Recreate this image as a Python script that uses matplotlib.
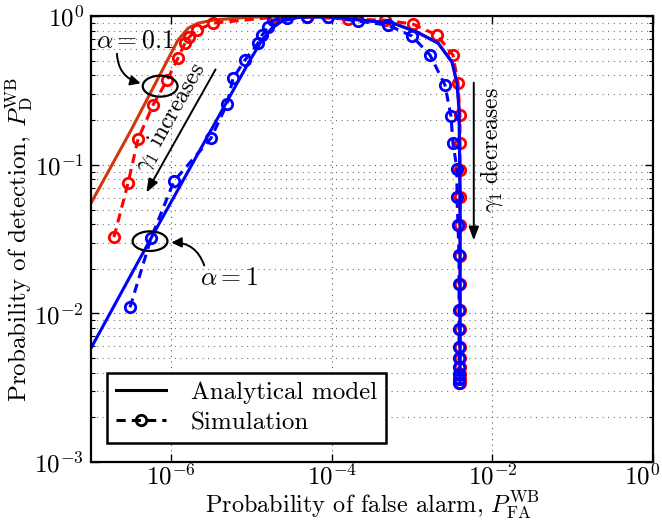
import numpy as np
import matplotlib
matplotlib.use('Agg')
import matplotlib.pyplot as plt
from matplotlib.lines import Line2D
from matplotlib.patches import Ellipse, FancyArrowPatch
from matplotlib.ticker import LogLocator, NullLocator
from matplotlib.transforms import ScaledTranslation

# --- data (P_FA, P_D) ---
# alpha = 0.1, analytical model
pfa_an_01 = [1.0e-7, 3.15e-7, 1.21e-6, 1.62e-6, 2.15e-6, 3.3e-6, 9.5e-6, 4.0e-5, 1.0e-4,
             2.3e-4, 5.9e-4, 1.17e-3, 2.12e-3, 3.16e-3, 3.64e-3, 3.86e-3, 3.96e-3, 3.96e-3]
pd_an_01 = [0.0553, 0.171, 0.690, 0.830, 0.897, 0.940, 0.985, 0.999, 0.999,
            0.940, 0.897, 0.780, 0.658, 0.490, 0.354, 0.233, 0.0579, 0.0034]

# alpha = 1, analytical model
pfa_an_1 = [1.0e-7, 5.59e-7, 3.12e-6, 9.55e-6, 1.35e-5, 1.79e-5, 2.39e-5, 4.0e-5, 9.5e-5,
            2.24e-4, 5.77e-4, 1.148e-3, 2.10e-3, 3.13e-3, 3.61e-3, 3.83e-3, 3.94e-3, 3.94e-3]
pd_an_1 = [0.00585, 0.0321, 0.171, 0.506, 0.690, 0.830, 0.926, 0.985, 0.999,
           0.940, 0.897, 0.780, 0.658, 0.490, 0.354, 0.233, 0.0579, 0.0034]

# alpha = 0.1, simulation
pfa_sim_01 = [1.93e-7, 2.89e-7, 3.85e-7, 5.91e-7, 8.84e-7, 1.21e-6, 1.48e-6, 1.66e-6, 2.09e-6,
              3.3e-6, 1.95e-5, 4.9e-5, 1.585e-4, 4.58e-4, 1.023e-3, 2.04e-3, 3.22e-3, 3.72e-3,
              3.94e-3, 3.94e-3, 3.94e-3, 3.94e-3, 3.94e-3, 3.94e-3, 3.94e-3, 3.94e-3, 3.94e-3,
              3.94e-3, 3.94e-3, 3.94e-3, 3.94e-3, 3.94e-3, 3.94e-3]
pd_sim_01 = [0.0326, 0.0753, 0.149, 0.252, 0.371, 0.522, 0.658, 0.722, 0.805,
             0.897, 0.985, 0.985, 0.955, 0.940, 0.884, 0.745, 0.547, 0.354,
             0.216, 0.140, 0.092, 0.0607, 0.0393, 0.0243, 0.0158, 0.0105, 0.00785,
             0.00594, 0.00501, 0.00436, 0.00394, 0.00363, 0.0034]

# alpha = 1, simulation
pfa_sim_1 = [3.06e-7, 5.59e-7, 1.08e-6, 3.12e-6, 4.94e-6, 5.87e-6, 8.27e-6, 1.2e-5, 1.35e-5,
             1.6e-5, 1.85e-5, 2.76e-5, 4.9e-5, 8.93e-5, 2.11e-4, 5.0e-4, 9.95e-4, 1.67e-3,
             2.56e-3, 3.04e-3, 3.22e-3, 3.61e-3, 3.61e-3, 3.72e-3, 3.83e-3, 3.83e-3, 3.83e-3,
             3.83e-3, 3.83e-3, 3.83e-3, 3.83e-3, 3.83e-3, 3.83e-3, 3.83e-3]
pd_sim_1 = [0.0110, 0.0321, 0.0777, 0.151, 0.256, 0.383, 0.506, 0.658, 0.745,
            0.843, 0.940, 0.970, 0.985, 0.985, 0.926, 0.870, 0.734, 0.547,
            0.344, 0.2126, 0.140, 0.0936, 0.0607, 0.0393, 0.0247, 0.0158, 0.0105,
            0.00785, 0.00594, 0.00501, 0.00436, 0.00394, 0.00363, 0.0034]

x_ticks = [1e-6, 1e-4, 1e-2, 1e0]
y_ticks = [1e-3, 1e-2, 1e-1, 1e0]

# --- style (LaTeX look) ---
plt.rcParams['font.family'] = 'serif'
plt.rcParams['font.serif'] = ['cmr10']
plt.rcParams['mathtext.fontset'] = 'cm'
plt.rcParams['axes.formatter.use_mathtext'] = True

fs = 18

fig = plt.figure(figsize=(6.62, 5.21), dpi=100)
ax = fig.add_axes([0.1375, 0.113, 0.849, 0.856])

red_line = '#d2380f'
lw = 2.2
mk = dict(marker='o', markersize=7.5, markerfacecolor='none', markeredgewidth=2.0)

ax.plot(pfa_an_01, pd_an_01, '-', color=red_line, lw=lw)
ax.plot(pfa_sim_01, pd_sim_01, '--', color='red', lw=lw, dashes=(3, 2), **mk)
ax.plot(pfa_sim_1, pd_sim_1, '--', color='blue', lw=lw, dashes=(3, 2), **mk)
ax.plot(pfa_an_1, pd_an_1, '-', color='blue', lw=lw)

ax.set_xscale('log')
ax.set_yscale('log')
ax.set_xlim(1e-7, 1)
ax.set_ylim(1e-3, 1)
ax.set_xticks(x_ticks)
ax.set_yticks(y_ticks)
ax.xaxis.set_minor_locator(NullLocator())
ax.yaxis.set_minor_locator(LogLocator(base=10, subs=np.arange(2, 10)))
ax.yaxis.set_minor_formatter(plt.NullFormatter())
ax.tick_params(which='both', direction='in', top=True, right=True, labelsize=fs)
ax.tick_params(which='major', length=6, width=1, pad=5)
ax.tick_params(axis='x', which='major', pad=1)
ax.tick_params(which='minor', length=3, width=0.8)
for s in ax.spines.values():
    s.set_linewidth(1.6)

# nudge the last x tick label so its superscript stays inside the figure
fig.canvas.draw()
last = ax.get_xticklabels()[-1]
last.set_transform(last.get_transform() + ScaledTranslation(-11 / 100, 0, fig.dpi_scale_trans))

ax.grid(which='major', axis='both', ls=(0, (1, 4)), color='0.35', lw=0.8)
ax.grid(which='minor', axis='y', ls=(0, (1, 4)), color='0.45', lw=0.8)
ax.set_axisbelow(True)

ax.set_xlabel(r'Probability of false alarm, $P_{\mathrm{FA}}^{\mathrm{WB}}$', fontsize=17.5)
ax.set_ylabel(r'Probability of detection, $P_{\mathrm{D}}^{\mathrm{WB}}$', fontsize=fs)
ax.xaxis.set_label_coords(0.5, -0.06)
ax.yaxis.set_label_coords(-0.098, 0.5)

# legend
handles = [Line2D([], [], color='black', lw=lw, ls='-'),
           Line2D([], [], color='black', lw=lw, ls='--', dashes=(3, 2), **mk)]
leg = ax.legend(handles, ['Analytical model', 'Simulation'], loc='lower left',
                bbox_to_anchor=(0.028, 0.043), borderaxespad=0, fontsize=fs,
                fancybox=False, framealpha=1, edgecolor='black',
                handlelength=2.0, handletextpad=1.0, borderpad=0.35, labelspacing=0.3)
leg.get_frame().set_linewidth(1.8)

# annotations (axes fraction)
T = ax.transAxes
ax.add_patch(Ellipse((0.123, 0.843), 0.062, 0.047, transform=T, fill=False, ec='black', lw=1.6, zorder=6))
ax.add_patch(Ellipse((0.105, 0.4955), 0.062, 0.044, transform=T, fill=False, ec='black', lw=1.6, zorder=6))

ax.text(0.078, 0.946, r'$\alpha = 0.1$', transform=T, fontsize=fs + 0.5, ha='center', va='center')
ax.text(0.245, 0.413, r'$\alpha = 1$', transform=T, fontsize=fs + 0.5, ha='center', va='center')

ax.add_patch(FancyArrowPatch((0.046, 0.922), (0.093, 0.848), transform=T,
                             connectionstyle='arc3,rad=0.4', arrowstyle='-|>,head_length=6,head_width=3',
                             color='black', lw=1.4, zorder=6))
ax.add_patch(FancyArrowPatch((0.203, 0.435), (0.138, 0.492), transform=T,
                             connectionstyle='arc3,rad=0.4', arrowstyle='-|>,head_length=6,head_width=3',
                             color='black', lw=1.4, zorder=6))

ax.annotate('', xy=(0.096, 0.599), xytext=(0.224, 0.886), xycoords=T, textcoords=T,
            arrowprops=dict(arrowstyle='-|>,head_length=0.8,head_width=0.3', color='black', lw=1.4))
ax.text(0.142, 0.773, r'$\gamma_1$ increases', transform=T, fontsize=17,
        rotation=60.6, ha='center', va='center', rotation_mode='anchor')

ax.annotate('', xy=(0.681, 0.491), xytext=(0.681, 0.857), xycoords=T, textcoords=T,
            arrowprops=dict(arrowstyle='-|>,head_length=0.8,head_width=0.3', color='black', lw=1.4))
ax.text(0.712, 0.70, r'$\gamma_1$ decreases', transform=T, fontsize=17,
        rotation=90, ha='center', va='center')

fig.savefig('out.png', dpi=100)
